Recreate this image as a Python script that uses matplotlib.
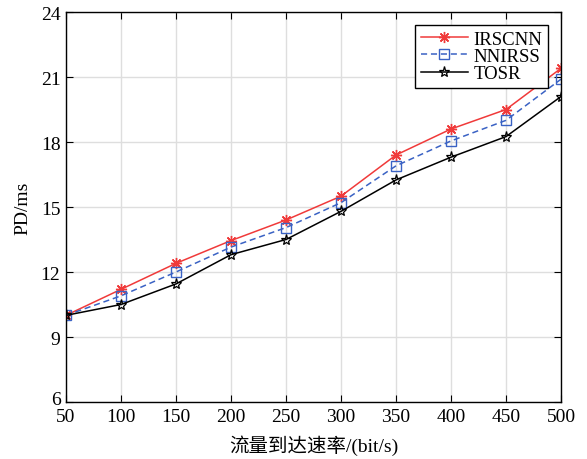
import matplotlib.pyplot as plt
from matplotlib.transforms import ScaledTranslation

plt.rcParams['font.family'] = ['Liberation Serif', 'Noto Sans CJK SC']
plt.rcParams['mathtext.fontset'] = 'stix'

rates = [50, 100, 150, 200, 250, 300, 350, 400, 450, 500]
irscnn = [10.0, 11.2, 12.4, 13.45, 14.4, 15.5, 17.4, 18.6, 19.5, 21.4]
nnirss = [10.0, 10.9, 12.0, 13.15, 14.05, 15.2, 16.9, 18.05, 19.0, 20.9]
tosr = [10.0, 10.5, 11.45, 12.8, 13.5, 14.8, 16.25, 17.3, 18.25, 20.1]

xticks = [50, 100, 150, 200, 250, 300, 350, 400, 450, 500]
yticks = [6, 9, 12, 15, 18, 21, 24]

fig, ax = plt.subplots(figsize=(5.87, 4.6), dpi=100)
fig.subplots_adjust(left=0.1124, right=0.9557, top=0.9717, bottom=0.1239)

ax.plot(rates, irscnn, color="#f03a3a", lw=1.1, marker=(8, 2, 0), ms=8,
        mew=1.0, label="IRSCNN")
ax.plot(rates, nnirss, color="#3a62c4", lw=1.1, ls=(0, (4, 2.5)), marker="s",
        ms=7, mfc="none", mew=1.0, label="NNIRSS")
ax.plot(rates, tosr, color="black", lw=1.1, marker="*", ms=8, mfc="none",
        mew=0.9, label="TOSR")

ax.set_xlim(50, 500)
ax.set_ylim(6, 24)
ax.set_xticks(xticks)
ax.set_yticks(yticks)
ax.grid(True, color="#dedede", lw=1.0)
ax.set_axisbelow(True)
ax.tick_params(direction="in", top=True, right=True, labelsize=14, length=5,
               pad=4)
for s in ax.spines.values():
    s.set_linewidth(1.0)

# matlab nudges the corner label "6" up a bit
lbl = ax.get_yticklabels()[0]
lbl.set_transform(lbl.get_transform() + ScaledTranslation(0, 3 / 72, fig.dpi_scale_trans))

ax.set_xlabel("流量到达速率/(bit/s)", fontsize=14, labelpad=7)
ax.set_ylabel("PD/ms", fontsize=14, labelpad=7)

leg = ax.legend(loc="upper right", fontsize=13.5, frameon=True, fancybox=False,
                edgecolor="black", handlelength=2.5, labelspacing=0.0,
                borderpad=0.3, handletextpad=0.3, borderaxespad=0.7)
leg.get_frame().set_linewidth(1.0)
leg.get_frame().set_alpha(1)

fig.savefig("out.png", dpi=100)
